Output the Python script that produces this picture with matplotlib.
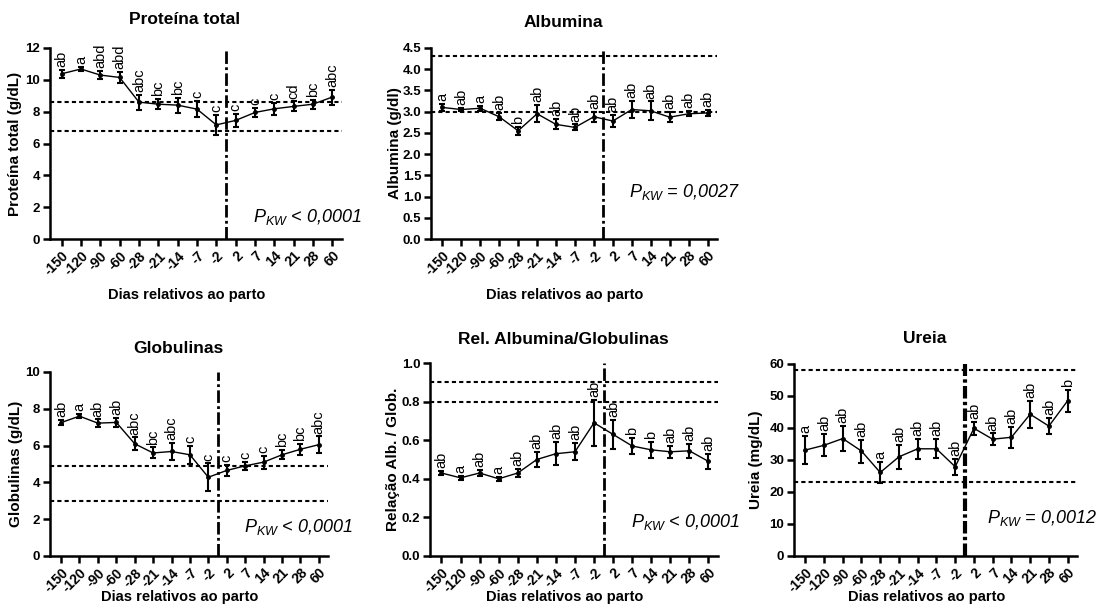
import matplotlib.pyplot as plt
import numpy as np

plt.rcParams['font.family'] = ['Liberation Sans', 'DejaVu Sans']
plt.rcParams['mathtext.fontset'] = 'custom'
plt.rcParams['mathtext.it'] = 'Liberation Sans:italic'
plt.rcParams['mathtext.rm'] = 'Liberation Sans:italic'

days = ["-150", "-120", "-90", "-60", "-28", "-21", "-14", "-7", "-2",
        "2", "7", "14", "21", "28", "60"]

prot_mean = [10.38, 10.68, 10.3, 10.15, 8.6, 8.47, 8.41, 8.16, 7.17,
             7.45, 7.95, 8.18, 8.33, 8.47, 8.92]
prot_err = [0.25, 0.15, 0.26, 0.37, 0.47, 0.31, 0.47, 0.52, 0.63,
            0.39, 0.28, 0.37, 0.31, 0.29, 0.47]
prot_letters = ["ab", "a", "abd", "abd", "abc", "bc", "bc", "c", "c",
                "c", "c", "c", "cd", "bc", "abc"]
prot_ref = [8.6, 6.8]

alb_mean = [3.1, 3.05, 3.08, 2.88, 2.55, 2.95, 2.7, 2.63, 2.88,
            2.78, 3.05, 3.02, 2.87, 2.95, 2.97]
alb_err = [0.08, 0.04, 0.06, 0.08, 0.1, 0.2, 0.12, 0.07, 0.12,
           0.15, 0.2, 0.22, 0.12, 0.06, 0.08]
alb_letters = ["a", "ab", "a", "ab", "b", "ab", "ab", "ab", "ab",
               "ab", "ab", "ab", "ab", "ab", "ab"]
alb_ref = [4.3, 3.0]

glob_mean = [7.25, 7.6, 7.22, 7.26, 6.1, 5.6, 5.68, 5.5, 4.28,
             4.65, 4.9, 5.1, 5.5, 5.8, 6.05]
glob_err = [0.15, 0.12, 0.2, 0.25, 0.35, 0.3, 0.45, 0.5, 0.75,
            0.3, 0.2, 0.35, 0.25, 0.3, 0.45]
glob_letters = ["ab", "a", "ab", "ab", "abc", "bc", "abc", "c", "c",
                "c", "c", "c", "bc", "bc", "abc"]
glob_ref = [4.9, 3.0]

rel_mean = [0.43, 0.405, 0.43, 0.40, 0.43, 0.50, 0.53, 0.54, 0.69,
            0.63, 0.57, 0.55, 0.54, 0.545, 0.49]
rel_err = [0.01, 0.012, 0.015, 0.01, 0.02, 0.04, 0.06, 0.045, 0.12,
           0.075, 0.04, 0.04, 0.03, 0.035, 0.04]
rel_letters = ["ab", "a", "ab", "a", "ab", "ab", "ab", "ab", "ab",
               "ab", "b", "b", "ab", "ab", "ab"]
rel_ref = [0.9, 0.8]

ureia_mean = [33.1, 34.6, 36.7, 32.8, 26.1, 31.0, 33.5, 33.5, 27.9,
              39.9, 36.5, 37.1, 44.3, 40.6, 48.5]
ureia_err = [4.3, 3.5, 3.9, 3.6, 3.4, 3.7, 3.2, 3.0, 2.5,
             2.0, 1.8, 3.2, 4.2, 2.6, 3.5]
ureia_letters = ["a", "ab", "ab", "ab", "a", "ab", "ab", "ab", "ab",
                 "ab", "ab", "ab", "ab", "ab", "b"]
ureia_ref = [58, 23]

W, H = 1099, 616


def panel(fig, box, title, ylabel, mean, err, letters, ref, ylim, yticks,
          ytick_fmt, pkw, pkw_pos, ylab_off, xlab_off, title_pad,
          vlw=2.0, vls=(0, (4.5, 1.2, 1, 1.2))):
    x0, y0, x1, y1 = box
    w, h = x1 - x0, y1 - y0
    ax = fig.add_axes([x0 / W, 1 - y1 / H, w / W, h / H])
    x = np.arange(len(days))
    ax.errorbar(x, mean, yerr=err, color="black", lw=1.0, elinewidth=1.5,
                capsize=2.5, capthick=1.5, marker="o", ms=2.5, zorder=3)
    for r in ref:
        ax.axhline(r, color="black", lw=1.5, ls=(0, (2, 1.5)), zorder=2)
    ax.axvline(8.5, color="black", lw=vlw, ls=vls, zorder=2)
    span = ylim[1] - ylim[0]
    for xi, m, e, t in zip(x, mean, err, letters):
        ax.text(xi, m + e + span * 0.015, t, rotation=90, ha="center",
                va="bottom", fontsize=10.5)
    ax.set_xlim(-0.6, 14.5)
    ax.set_ylim(*ylim)
    ax.set_yticks(yticks)
    ax.set_yticklabels([ytick_fmt.format(v) for v in yticks],
                       fontsize=9.5, fontweight="bold")
    ax.set_xticks(x)
    ax.set_xticklabels(days, rotation=45, ha="right", rotation_mode="anchor",
                       fontsize=10, fontweight="bold")
    for s in ["top", "right"]:
        ax.spines[s].set_visible(False)
    for s in ["left", "bottom"]:
        ax.spines[s].set_linewidth(1.8)
    ax.tick_params(width=1.8, length=5, pad=2)
    ax.set_title(title, fontsize=12.5, fontweight="bold", pad=title_pad,
                 x=0.5 - 11 / w)
    ax.set_ylabel(ylabel, fontsize=11, fontweight="bold")
    ax.yaxis.set_label_coords(-ylab_off / w, 0.5)
    ax.set_xlabel("Dias relativos ao parto", fontsize=10.5,
                  fontweight="bold")
    ax.xaxis.set_label_coords(0.5 - 9 / w, -xlab_off / h)
    px, py = pkw_pos
    ax.text((px - x0) / w, (y1 - py) / h, r"$P_{KW}$" + pkw,
            transform=ax.transAxes, ha="right", va="center", fontsize=13,
            fontstyle="italic")
    return ax


def main():
    fig = plt.figure(figsize=(W / 100, H / 100), dpi=100)

    panel(fig, (50, 48, 342, 239), "Proteína total", "Proteína total (g/dL)",
          prot_mean, prot_err, prot_letters, prot_ref, (0, 12),
          [0, 2, 4, 6, 8, 10, 12], "{:.0f}", " < 0,0001", (362, 217),
          28, 49, 17)
    panel(fig, (431, 48, 717, 239), "Albumina", "Albumina (g/dl)",
          alb_mean, alb_err, alb_letters, alb_ref, (0, 4.5),
          list(np.arange(0, 4.51, 0.5)), "{:.1f}", " = 0,0027", (740, 192),
          29, 49, 15)
    panel(fig, (50, 372, 328, 556), "Globulinas", "Globulinas (g/dL)",
          glob_mean, glob_err, glob_letters, glob_ref, (0, 10),
          [0, 2, 4, 6, 8, 10], "{:.0f}", " < 0,0001", (353, 527),
          27, 34, 14)
    panel(fig, (430, 363, 718, 556), "Rel. Albumina/Globulinas",
          "Relação Alb. / Glob.", rel_mean, rel_err, rel_letters, rel_ref,
          (0, 1.0), [0.0, 0.2, 0.4, 0.6, 0.8, 1.0], "{:.1f}", " < 0,0001",
          (740, 522), 30, 34, 14)
    panel(fig, (794, 364, 1077, 556), "Ureia", "Ureia (mg/dL)",
          ureia_mean, ureia_err, ureia_letters, ureia_ref, (0, 60),
          [0, 10, 20, 30, 40, 50, 60], "{:.0f}", " = 0,0012", (1097, 518),
          31, 34, 15, vlw=3.0, vls=(0, (3, 0.8, 0.8, 0.8)))

    fig.savefig("out.png", dpi=100)


if __name__ == "__main__":
    main()
